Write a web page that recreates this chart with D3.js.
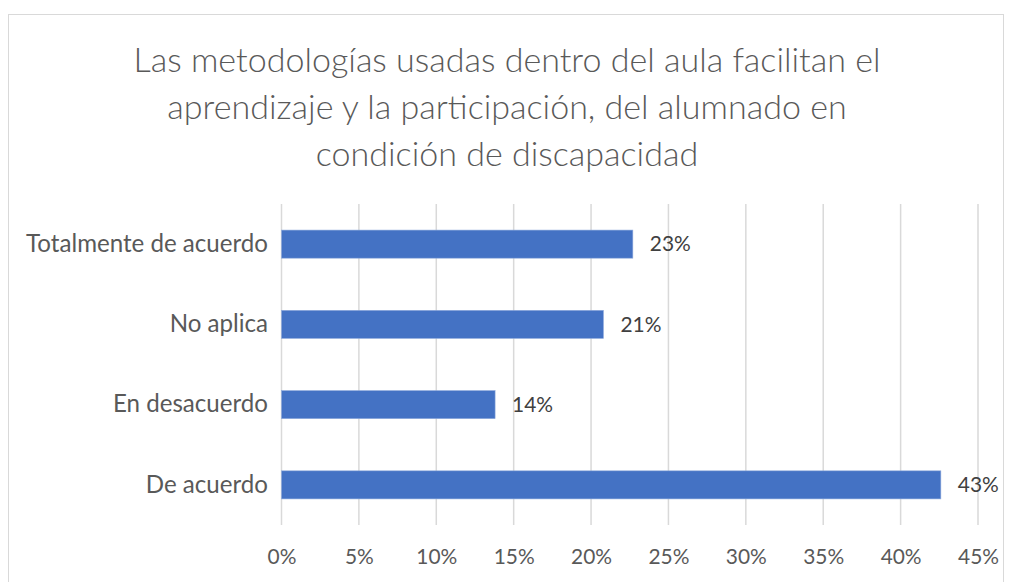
<!DOCTYPE html>
<html>
<head>
<meta charset="utf-8">
<script src="https://cdn.jsdelivr.net/npm/d3@7"></script>
<style>
  body { margin: 0; background: #fff; }
  svg { display: block; }
</style>
</head>
<body>
<script>
    "use strict";
    var categories = ["Totalmente de acuerdo", "No aplica", "En desacuerdo", "De acuerdo"],
        values = [0.227, 0.208, 0.138, 0.426],
        tickValues = [0, 0.05, 0.10, 0.15, 0.20, 0.25, 0.30, 0.35, 0.40, 0.45],
        titleLines = ["Las metodologías usadas dentro del aula facilitan el",
                      "aprendizaje y la participación, del alumnado en",
                      "condición de discapacidad"];

    var W = 1013, H = 582,
        font = "Lato, 'Open Sans', sans-serif",
        pct = d3.format(".0%");

    var svg = d3.select("body").append("svg").attr("width", W).attr("height", H);

    // size a font so that a sample string takes the width Calibri gave it
    function fitSize(sample, width, weight) {
        var t = svg.append("text").attr("font-family", font).attr("font-weight", weight || 400)
            .attr("font-size", 20).text(sample);
        var w = t.node().getComputedTextLength();
        t.remove();
        return 20 * width / w;
    }
    var titleSize = fitSize(titleLines[0], 747, 300),
        labelSize = fitSize(categories[0], 242),
        tickSize = fitSize("45%", 41);

    // chart frame
    svg.append("rect").attr("x", 8.5).attr("y", 14.5).attr("width", 995).attr("height", 580)
        .attr("fill", "#fff").attr("stroke", "#d9d9d9");

    var x = d3.scaleLinear().domain([0, 0.45]).range([281.5, 978]);
    var y = d3.scaleBand().domain(categories).range([204, 525]).paddingInner(0.65).paddingOuter(0.325);

    // title
    var title = svg.append("g").attr("font-family", font).attr("font-weight", 300).attr("fill", "#595959")
        .attr("font-size", titleSize).attr("text-anchor", "middle");
    titleLines.forEach(function (t, i) {
        title.append("text").attr("x", 507).attr("y", 72 + i * 47).text(t);
    });

    // gridlines
    svg.append("g").selectAll("line").data(tickValues).join("line")
        .attr("x1", function (d) { return x(d); }).attr("x2", function (d) { return x(d); })
        .attr("y1", 204).attr("y2", 525)
        .attr("stroke", "#d9d9d9").attr("stroke-width", 1.5);

    // x axis labels
    var xAxis = svg.append("g").attr("transform", "translate(0,525)")
        .call(d3.axisBottom(x).tickValues(tickValues).tickSize(0).tickPadding(24).tickFormat(pct));
    xAxis.select(".domain").remove();
    xAxis.selectAll("text").attr("font-family", font).attr("font-size", tickSize).attr("fill", "#595959");

    // y axis labels
    var yAxis = svg.append("g").attr("transform", "translate(268,0)")
        .call(d3.axisLeft(y).tickSize(0).tickPadding(0));
    yAxis.select(".domain").remove();
    yAxis.selectAll("text").attr("font-family", font).attr("font-size", labelSize).attr("fill", "#595959");

    // bars
    svg.append("g").selectAll("rect").data(values).join("rect")
        .attr("x", x(0))
        .attr("y", function (d, i) { return y(categories[i]); })
        .attr("width", function (d) { return x(d) - x(0); })
        .attr("height", y.bandwidth())
        .attr("fill", "#4472c4")
        .attr("stroke", "#8faadc").attr("stroke-width", 0.6);

    // data labels
    svg.append("g").selectAll("text").data(values).join("text")
        .attr("x", function (d) { return x(d) + 17; })
        .attr("y", function (d, i) { return y(categories[i]) + y.bandwidth() / 2; })
        .attr("dy", "0.35em")
        .attr("font-family", font).attr("font-size", tickSize).attr("fill", "#404040")
        .text(function (d) { return pct(d); });
</script>
</body>
</html>
